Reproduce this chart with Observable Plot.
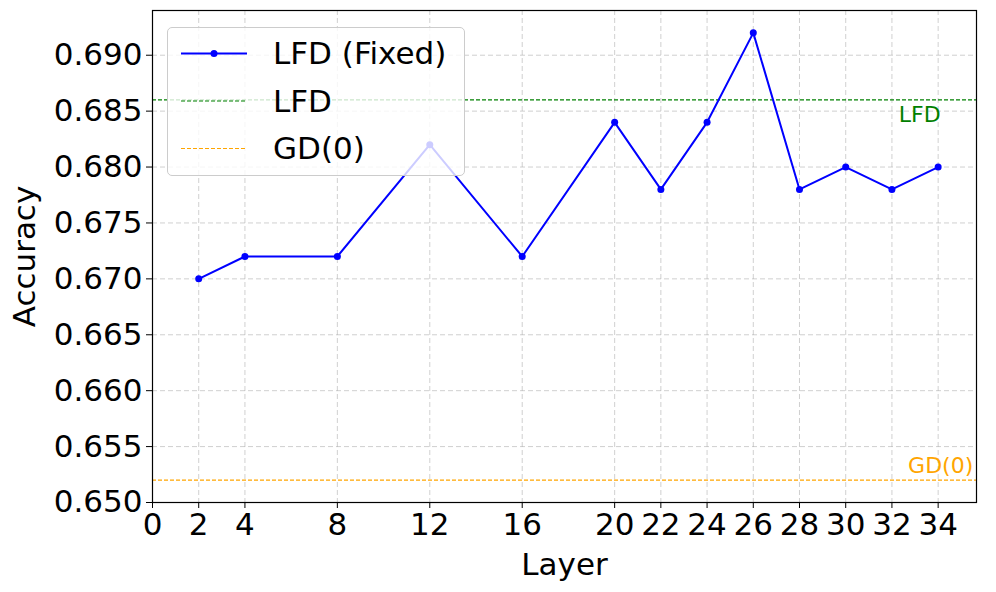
<!DOCTYPE html>
<html>
<head>
<meta charset="utf-8">
<script src="https://cdn.jsdelivr.net/npm/d3@7"></script>
<script src="https://cdn.jsdelivr.net/npm/@observablehq/plot@0.6"></script>
<style>
  body { margin: 0; background: #fff; font-family: "DejaVu Sans", sans-serif; }
  #wrap { position: relative; width: 996px; height: 592px; }
  #legend {
    position: absolute; left: 167px; top: 27px; width: 298px; height: 149px;
    background: rgba(255,255,255,0.8); border: 1px solid #cccccc; border-radius: 5px;
    box-sizing: border-box;
  }
  #legend svg { position: absolute; left: 0; top: 0; }
</style>
</head>
<body>
<div id="wrap"></div>
<script>
const layers = [2, 4, 8, 12, 16, 20, 22, 24, 26, 28, 30, 32, 34];
const accuracy = [0.670, 0.672, 0.672, 0.682, 0.672, 0.684, 0.678, 0.684, 0.692, 0.678, 0.680, 0.678, 0.680];
const xTicks = [0, 2, 4, 8, 12, 16, 20, 22, 24, 26, 28, 30, 32, 34];
const yTicks = [0.650, 0.655, 0.660, 0.665, 0.670, 0.675, 0.680, 0.685, 0.690];
const baselineNames = ["LFD", "GD(0)"];
const baselineValues = [0.686, 0.652];
const baselineColors = ["#008000", "#ffa500"];
const baselineLabelX = [32.3, 32.7];
const baselineLabelY = [0.6847, 0.6533];

const data = layers.map((l, i) => ({layer: l, acc: accuracy[i]}));
const baselines = baselineNames.map((n, i) => ({name: n, value: baselineValues[i], color: baselineColors[i], lx: baselineLabelX[i], ly: baselineLabelY[i]}));

const chart = Plot.plot({
  width: 996,
  height: 592,
  marginLeft: 152,
  marginRight: 20,
  marginTop: 10,
  marginBottom: 90,
  style: {fontFamily: "DejaVu Sans, sans-serif", fontSize: "31px", color: "#000", background: "#fff"},
  x: {domain: [0, 35.66]},
  y: {domain: [0.650, 0.6940]},
  marks: [
    Plot.gridX(xTicks, {stroke: "#b0b0b0", strokeOpacity: 0.6, strokeDasharray: "5,3"}),
    Plot.gridY(yTicks, {stroke: "#b0b0b0", strokeOpacity: 0.6, strokeDasharray: "5,3"}),
    Plot.ruleY(baselines, {y: "value", stroke: "color", strokeWidth: 1.2, strokeDasharray: "4,2"}),
    Plot.text(baselines, {x: "lx", y: "ly", text: "name", fill: "color", textAnchor: "start", fontSize: 22}),
    Plot.line(data, {x: "layer", y: "acc", stroke: "#0000ff", strokeWidth: 2}),
    Plot.dot(data, {x: "layer", y: "acc", fill: "#0000ff", r: 3.5}),
    Plot.frame({stroke: "#000", strokeWidth: 1.2}),
    Plot.axisX(xTicks, {tickSize: 6, tickPadding: 4, label: "Layer", labelAnchor: "center", labelOffset: 72, fontSize: 31}),
    Plot.axisY(yTicks, {tickSize: 6, tickPadding: 4, tickFormat: d3.format(".3f"), label: "Accuracy", labelAnchor: "center", labelOffset: 140, labelArrow: "none", fontSize: 31})
  ]
});
chart.querySelectorAll("[aria-label='x-axis label'] text, [aria-label='y-axis label'] text").forEach(t => {
  t.textContent = t.textContent.replace(/[↑↓→←]/g, "").trim();
});
const wrap = document.getElementById("wrap");
wrap.appendChild(chart);

const legend = document.createElement("div");
legend.id = "legend";
const rows = [
  {label: "LFD (Fixed)", color: "#0000ff", dash: null, marker: true, width: 2},
  {label: "LFD", color: "#008000", dash: "4,2", marker: false, width: 1},
  {label: "GD(0)", color: "#ffa500", dash: "4,2", marker: false, width: 1}
];
const ns = "http://www.w3.org/2000/svg";
const svg = document.createElementNS(ns, "svg");
svg.setAttribute("width", 298); svg.setAttribute("height", 149);
rows.forEach((r, i) => {
  const cy = 25.5 + i * 47.5;
  const ln = document.createElementNS(ns, "line");
  ln.setAttribute("x1", 13); ln.setAttribute("x2", 79);
  ln.setAttribute("y1", cy); ln.setAttribute("y2", cy);
  ln.setAttribute("stroke", r.color); ln.setAttribute("stroke-width", r.width);
  if (r.dash) ln.setAttribute("stroke-dasharray", r.dash);
  svg.appendChild(ln);
  if (r.marker) {
    const c = document.createElementNS(ns, "circle");
    c.setAttribute("cx", 46); c.setAttribute("cy", cy); c.setAttribute("r", 3.5);
    c.setAttribute("fill", r.color);
    svg.appendChild(c);
  }
  const t = document.createElementNS(ns, "text");
  t.setAttribute("x", 105); t.setAttribute("y", cy);
  t.setAttribute("dy", "0.35em");
  t.setAttribute("font-size", "31px");
  t.setAttribute("font-family", "DejaVu Sans, sans-serif");
  t.textContent = r.label;
  svg.appendChild(t);
});
legend.appendChild(svg);
wrap.appendChild(legend);
</script>
</body>
</html>
